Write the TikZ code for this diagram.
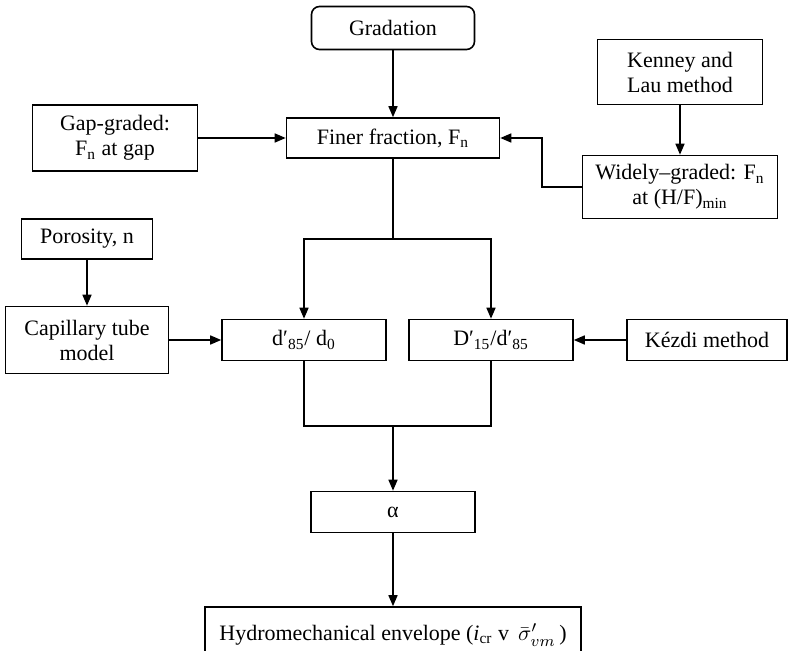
\documentclass[tikz,border=0pt]{standalone}
\usepackage{fontspec}
\setmainfont{Liberation Serif}
\usetikzlibrary{arrows.meta,positioning}

\begin{document}
\begin{tikzpicture}[node distance=2.5cm, on grid, >={Triangle[length=5.5pt,width=4.5pt]},
        line width=0.8pt,
        block/.style={draw, rectangle, align=center, inner sep=2pt, minimum width=82pt,
            minimum height=20.5pt, font=\fontsize{11}{12.5}\selectfont},
        tall/.style={block, minimum height=33pt}]
        \useasboundingbox (0pt,0pt) rectangle (394pt,-325.5pt);
        \clip (0pt,0pt) rectangle (394pt,-325.5pt);

        \node[block, rounded corners=4pt, minimum width=81.5pt, minimum height=21.5pt] (grad) at (196.5pt,-14pt) {Gradation};
        \node[block, minimum width=106.5pt, minimum height=20pt, below=55pt of grad] (finer) {Finer fraction, F\textsubscript{n}};

        \node[tall, minimum width=82.5pt, left=139pt of finer] (gap) {Gap-graded:\\F\textsubscript{n} at gap};
        \node[tall, minimum width=97.5pt, minimum height=31.5pt, below right=24.5pt and 143.5pt of finer] (widely) {Widely--graded: F\textsubscript{n}\\at (H/F)\textsubscript{min}};
        \node[tall, minimum width=82.5pt, minimum height=32.5pt, above=57.5pt of widely] (kenney) {Kenney and\\Lau method};

        \node[block, below left=101pt and 44.5pt of finer] (dsmall) {d′\textsubscript{85}/ d\textsubscript{0}};
        \node[block, right=93.5pt of dsmall] (dlarge) {D′\textsubscript{15}/d′\textsubscript{85}};
        \node[block, minimum width=80pt, right=108pt of dlarge] (kezdi) {Kézdi method};
        \node[tall, minimum width=81.5pt, minimum height=33.5pt, left=108.5pt of dsmall] (capil) {Capillary tube\\model};
        \node[block, minimum width=65.5pt, minimum height=20pt, above=50.5pt of capil] (poro) {Porosity, n};

        \node[block, below=187pt of finer] (alpha) {α};
        \node[block, minimum width=188pt, minimum height=28pt, below=61.5pt of alpha] (hydro) {Hydromechanical envelope (\textit{i}\textsubscript{cr} v\, $\bar{\sigma}'_{vm}$\,)};

        \coordinate[below=50.5pt of finer] (fsplit);
        \coordinate[above=43pt of alpha] (amerge);

        \path[->] (grad) edge (finer);
        \path[->] (gap) edge (finer);
        \path[->] (kenney) edge (widely);
        \path[->] (poro) edge (capil);
        \path[->] (capil) edge (dsmall);
        \path[->] (kezdi) edge (dlarge);
        \draw[->] (widely.west) -- ++(-20pt,0) |- (finer.east);
        \draw[->] (finer.south) -- (fsplit) -| (dsmall.north);
        \draw[->] (fsplit) -| (dlarge.north);
        \draw (dsmall.south) |- (amerge) -| (dlarge.south);
        \path[->] (amerge) edge (alpha);
        \path[->] (alpha) edge (hydro);
    \end{tikzpicture}
\end{document}
